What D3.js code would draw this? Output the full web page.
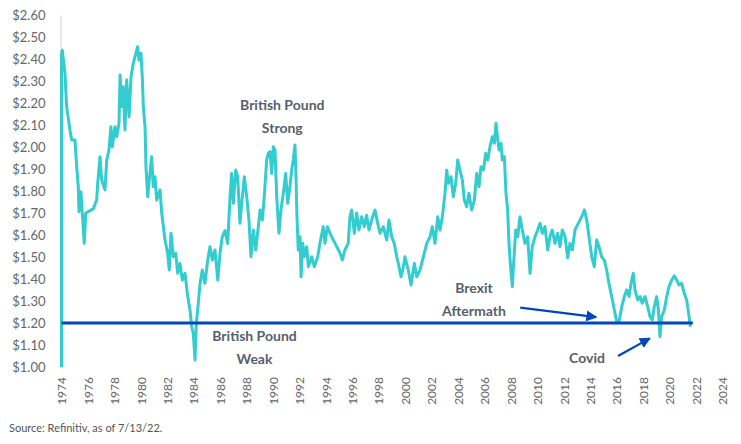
<!DOCTYPE html>
<html>
<head>
<meta charset="utf-8">
<script src="https://cdn.jsdelivr.net/npm/d3@7"></script>
<style>
  body { margin: 0; background: #fff; }
  text { font-family: Lato, "Noto Sans", sans-serif; }
</style>
</head>
<body>
<svg id="drawing_region"></svg>
<script>
// GBP/USD (decimal years on the chart's own axis)
const years = [
  1974.00, 1974.00, 1974.06, 1974.26, 1974.39, 1974.64, 1974.77, 1975.02, 1975.15, 1975.27,
  1975.32, 1975.47, 1975.57, 1975.72, 1975.83, 1976.03, 1976.41, 1976.66, 1976.74, 1976.91,
  1977.04, 1977.29, 1977.42, 1977.59, 1977.74, 1977.84, 1978.05, 1978.18, 1978.35, 1978.43,
  1978.55, 1978.67, 1978.80, 1978.93, 1979.11, 1979.26, 1979.43, 1979.56, 1979.76, 1979.86,
  1980.01, 1980.11, 1980.19, 1980.32, 1980.39, 1980.52, 1980.69, 1980.82, 1980.94, 1981.07,
  1981.20, 1981.45, 1981.58, 1981.83, 1982.03, 1982.15, 1982.28, 1982.46, 1982.64, 1982.79,
  1982.96, 1983.14, 1983.34, 1983.55, 1983.72, 1983.85, 1983.97, 1984.10, 1984.20, 1984.35,
  1984.48, 1984.65, 1984.85, 1985.06, 1985.23, 1985.41, 1985.61, 1985.82, 1985.99, 1986.16,
  1986.37, 1986.57, 1986.75, 1986.87, 1987.00, 1987.18, 1987.33, 1987.50, 1987.63, 1987.83,
  1988.01, 1988.18, 1988.33, 1988.51, 1988.69, 1988.89, 1989.02, 1989.19, 1989.34, 1989.52,
  1989.64, 1989.77, 1989.90, 1990.02, 1990.15, 1990.28, 1990.45, 1990.60, 1990.78, 1990.96,
  1991.11, 1991.28, 1991.41, 1991.53, 1991.66, 1991.74, 1991.81, 1991.91, 1992.04, 1992.12,
  1992.25, 1992.37, 1992.55, 1992.67, 1992.93, 1993.12, 1993.38, 1993.55, 1993.80, 1993.93,
  1994.11, 1994.31, 1994.56, 1994.82, 1995.07, 1995.24, 1995.44, 1995.69, 1995.82, 1995.95,
  1996.15, 1996.33, 1996.50, 1996.71, 1996.90, 1997.08, 1997.26, 1997.46, 1997.71, 1997.92,
  1998.09, 1998.34, 1998.60, 1998.77, 1998.98, 1999.17, 1999.36, 1999.48, 1999.68, 1999.86,
  1999.98, 2000.23, 2000.44, 2000.69, 2000.87, 2001.12, 2001.37, 2001.63, 2001.88, 2002.05,
  2002.25, 2002.46, 2002.63, 2002.81, 2003.01, 2003.14, 2003.26, 2003.46, 2003.64, 2003.82,
  2003.97, 2004.14, 2004.32, 2004.47, 2004.65, 2004.82, 2005.03, 2005.23, 2005.41, 2005.58,
  2005.73, 2005.91, 2006.09, 2006.24, 2006.41, 2006.59, 2006.74, 2006.87, 2007.00, 2007.10,
  2007.25, 2007.34, 2007.50, 2007.62, 2007.75, 2007.85, 2007.95, 2008.10, 2008.23, 2008.36,
  2008.51, 2008.68, 2008.86, 2009.06, 2009.26, 2009.44, 2009.61, 2009.82, 2010.02, 2010.20,
  2010.37, 2010.57, 2010.78, 2010.95, 2011.12, 2011.33, 2011.53, 2011.71, 2011.88, 2012.09,
  2012.29, 2012.46, 2012.64, 2012.84, 2013.09, 2013.35, 2013.55, 2013.73, 2013.90, 2014.11,
  2014.30, 2014.48, 2014.66, 2014.86, 2015.06, 2015.24, 2015.41, 2015.62, 2015.82, 2016.00,
  2016.17, 2016.38, 2016.57, 2016.75, 2016.93, 2017.08, 2017.25, 2017.38, 2017.59, 2017.76,
  2017.93, 2018.14, 2018.34, 2018.52, 2018.69, 2018.84, 2019.02, 2019.15, 2019.27, 2019.40,
  2019.60, 2019.78, 2019.95, 2020.16, 2020.35, 2020.54, 2020.71, 2020.91, 2021.11, 2021.29,
  2021.47, 2021.57
];
const rates = [
  1.000, 2.420, 2.440, 2.335, 2.183, 2.077, 2.032, 2.032, 1.910, 1.820,
  1.706, 1.797, 1.700, 1.562, 1.700, 1.706, 1.720, 1.759, 1.835, 1.956,
  1.850, 1.805, 1.941, 1.986, 2.092, 2.001, 2.092, 2.047, 2.108, 2.327,
  2.183, 2.274, 2.077, 2.305, 2.138, 2.320, 2.380, 2.410, 2.456, 2.395,
  2.426, 2.320, 2.183, 2.092, 1.910, 1.774, 1.880, 1.956, 1.820, 1.865,
  1.759, 1.805, 1.700, 1.577, 1.517, 1.441, 1.608, 1.501, 1.517, 1.426,
  1.471, 1.395, 1.426, 1.320, 1.259, 1.183, 1.153, 1.032, 1.199, 1.290,
  1.380, 1.441, 1.380, 1.486, 1.547, 1.486, 1.532, 1.395, 1.517, 1.592,
  1.620, 1.562, 1.774, 1.880, 1.744, 1.895, 1.865, 1.653, 1.744, 1.865,
  1.774, 1.668, 1.501, 1.623, 1.532, 1.638, 1.714, 1.668, 1.774, 1.941,
  1.971, 1.979, 1.880, 2.001, 1.986, 1.774, 1.608, 1.714, 1.790, 1.880,
  1.744, 1.820, 1.895, 1.941, 2.009, 1.865, 1.683, 1.532, 1.592, 1.410,
  1.562, 1.501, 1.547, 1.456, 1.501, 1.456, 1.501, 1.562, 1.638, 1.562,
  1.638, 1.608, 1.577, 1.547, 1.517, 1.486, 1.532, 1.562, 1.683, 1.714,
  1.608, 1.700, 1.623, 1.683, 1.638, 1.690, 1.623, 1.668, 1.714, 1.653,
  1.608, 1.638, 1.577, 1.668, 1.592, 1.562, 1.501, 1.471, 1.410, 1.456,
  1.501, 1.441, 1.373, 1.471, 1.410, 1.441, 1.501, 1.562, 1.592, 1.638,
  1.562, 1.683, 1.623, 1.683, 1.790, 1.895, 1.835, 1.865, 1.774, 1.835,
  1.941, 1.895, 1.850, 1.759, 1.729, 1.790, 1.714, 1.759, 1.880, 1.820,
  1.910, 1.895, 1.971, 1.941, 2.001, 2.047, 2.017, 2.108, 2.032, 1.986,
  2.017, 1.941, 1.956, 1.790, 1.714, 1.562, 1.471, 1.365, 1.501, 1.623,
  1.592, 1.683, 1.623, 1.562, 1.592, 1.426, 1.547, 1.592, 1.623, 1.653,
  1.608, 1.638, 1.532, 1.592, 1.623, 1.562, 1.608, 1.547, 1.623, 1.592,
  1.496, 1.562, 1.532, 1.623, 1.653, 1.683, 1.714, 1.668, 1.592, 1.501,
  1.456, 1.577, 1.547, 1.501, 1.486, 1.441, 1.380, 1.320, 1.259, 1.206,
  1.206, 1.274, 1.320, 1.350, 1.320, 1.380, 1.426, 1.350, 1.305, 1.320,
  1.290, 1.320, 1.274, 1.229, 1.214, 1.274, 1.320, 1.259, 1.138, 1.229,
  1.259, 1.320, 1.365, 1.395, 1.414, 1.395, 1.373, 1.380, 1.335, 1.305,
  1.229, 1.183
];

const xTicks = d3.range(1974, 2025, 2);
const yTicks = d3.range(10, 27).map(d => d / 10);

const refLevel = 1.20;
const refEnd = 2021.75;

const notes = [
  { lines: ["British Pound", "Strong"], year: 1990.7, rate: 2.17 },
  { lines: ["British Pound", "Weak"], year: 1988.6, rate: 1.12 },
  { lines: ["Brexit", "Aftermath"], year: 2005.2, rate: 1.336 },
  { lines: ["Covid"], year: 2013.75, rate: 1.018 }
];
const arrows = [
  { from: [2008.7, 1.27], to: [2014.45, 1.227] },
  { from: [2016.1, 1.05], to: [2018.5, 1.13] }
];

const config = {
  parent: '#drawing_region',
  width: 741,
  height: 444,
};

class FxChart {
  constructor( config ) {
    this.config = config;
    this.data = years.map( (y, i) => ({ year: y, rate: rates[i] }) );
    this.init();
  }

  init() {
    let self = this;
    self.svg = d3.select( self.config.parent )
      .attr('width', self.config.width)
      .attr('height', self.config.height);

    self.xscale = d3.scaleLinear().domain([1974, 2024]).range([61.5, 722.5]);
    self.yscale = d3.scaleLinear().domain([1.0, 2.6]).range([367, 15]);

    self.svg.append('defs').append('marker')
      .attr('id', 'head')
      .attr('viewBox', '0 0 10 10')
      .attr('refX', 9).attr('refY', 5)
      .attr('markerWidth', 5).attr('markerHeight', 5)
      .attr('orient', 'auto')
      .append('path')
      .attr('d', 'M0,0 L10,5 L0,10 Z')
      .attr('fill', '#0047bb');
  }

  render() {
    let self = this;
    const x = self.xscale, y = self.yscale;

    // y axis
    const yaxis = self.svg.append('g')
      .attr('transform', `translate(${x(1974) - 1}, 0)`)
      .call( d3.axisLeft(y).tickValues(yTicks).tickSize(0).tickPadding(15)
        .tickFormat(d => '$' + d.toFixed(2)) );
    yaxis.select('.domain').attr('stroke', '#d0d0d0');
    yaxis.selectAll('text')
      .attr('font-size', '13px')
      .attr('fill', '#666');

    // x axis, rotated labels
    const xaxis = self.svg.append('g')
      .attr('transform', `translate(0, ${y(1.0)})`)
      .call( d3.axisBottom(x).tickValues(xTicks).tickSize(0).tickFormat(d3.format('d')) );
    xaxis.select('.domain').remove();
    xaxis.selectAll('text')
      .attr('font-size', '12px')
      .attr('fill', '#666')
      .attr('text-anchor', 'end')
      .attr('transform', 'rotate(-90)')
      .attr('x', -10)
      .attr('y', 0)
      .attr('dy', '0.35em');

    // the rate line
    const line = d3.line().x(d => x(d.year)).y(d => y(d.rate));
    self.svg.append('path')
      .datum(self.data)
      .attr('d', line)
      .attr('fill', 'none')
      .attr('stroke', '#33cccf')
      .attr('stroke-width', 3)
      .attr('stroke-linejoin', 'round');

    // $1.20 reference
    self.svg.append('line')
      .attr('x1', x(1974)).attr('x2', x(refEnd))
      .attr('y1', y(refLevel)).attr('y2', y(refLevel))
      .attr('stroke', '#0047bb')
      .attr('stroke-width', 3);

    // notes
    notes.forEach( n => {
      const t = self.svg.append('text')
        .attr('text-anchor', 'middle')
        .attr('font-size', '14px')
        .attr('font-weight', 'bold')
        .attr('fill', '#56606b');
      n.lines.forEach( (s, i) => {
        t.append('tspan')
          .attr('x', x(n.year))
          .attr('y', y(n.rate) + i * 23)
          .text(s);
      });
    });

    self.svg.selectAll('.arrow')
      .data(arrows)
      .enter()
      .append('line')
      .attr('x1', d => x(d.from[0])).attr('y1', d => y(d.from[1]))
      .attr('x2', d => x(d.to[0])).attr('y2', d => y(d.to[1]))
      .attr('stroke', '#0047bb')
      .attr('stroke-width', 2.2)
      .attr('marker-end', 'url(#head)');

    self.svg.append('text')
      .attr('x', 9).attr('y', 432)
      .attr('font-size', '11px')
      .attr('fill', '#555')
      .text('Source: Refinitiv, as of 7/13/22.');
  }
}

const chart = new FxChart( config );
chart.render();
</script>
</body>
</html>
